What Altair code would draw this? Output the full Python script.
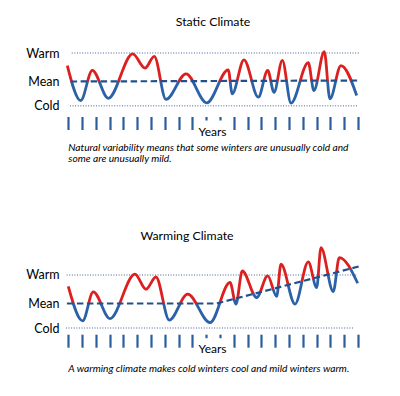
import altair as alt
import pandas as pd

# ---------------- data ----------------
level_names = ["Warm", "Mean", "Cold"]
static_levels = [10.0, 0.0, -8.5]
warming_levels = [10.0, 0.0, -8.6]

year_ticks = list(range(22))
short_ticks = [10, 11]

# turning points of the winter-temperature curve: x = year index, v = anomaly
static_x = [-0.07, 0.90, 1.74, 2.90, 4.67, 5.56, 6.23, 7.08, 8.53, 10.03, 11.59, 11.88,
            12.73, 13.77, 14.45, 14.91, 15.51, 16.14, 17.39, 17.80, 18.55, 18.96, 19.76, 20.90]
static_v = [5.6, -6.7, 3.9, -5.9, 9.7, 4.7, 8.8, -6.3, 2.7, -7.5, 4.1, -4.3,
            7.6, -5.5, 3.9, -3.8, 7.4, -7.6, 6.6, -3.2, 10.5, -6.1, 5.6, -4.9]
static_mean_x = [0.17, 21.0]
static_mean_v = [0.0, 0.35]
static_ref_start = [0.25, 0.12]
static_ref_end = [21.14, 21.02]

warming_x = [0.0, 1.04, 1.81, 3.02, 4.83, 5.63, 6.35, 7.32, 8.65, 10.27, 11.72, 12.15,
             12.61, 13.65, 14.45, 15.10, 15.41, 16.43, 17.39, 18.0, 18.31, 19.2, 19.64, 20.97]
warming_v = [6.0, -6.1, 4.1, -5.3, 10.3, 5.0, 9.3, -5.8, 3.3, -6.7, 7.4, -0.2,
             11.4, 2.1, 9.7, 2.5, 13.8, -0.2, 14.6, 5.6, 19.6, 4.2, 16.1, 7.1]
warming_mean_x = [-0.1, 10.75, 21.07]
warming_mean_v = [0.0, 0.0, 13.0]
warming_ref_start = [-0.12, -0.17]
warming_ref_end = [20.9, 20.72]

titles = ["Static Climate", "Warming Climate"]
captions = ["Natural variability means that some winters are unusually cold and\nsome are unusually mild.",
            "A warming climate makes cold winters cool and mild winters warm."]
x_title = "Years"

# ---------------- style / layout ----------------
RED = "#dc1f1f"
BLUE = "#2b61a6"
MEAN_C = "#22508e"
TICK_C = "#2c5e9e"
REF_C = "#8395bb"
FONT = "Lato"

PX = 13.8
X_LO = -0.6
TOP_W = 302
LEFT_W = 157
RIGHT_W = 145
X_SPLIT = X_LO + LEFT_W / PX
X_HI = X_SPLIT + RIGHT_W / PX
TOP_H = 75
TOP_YDOM = [-12.28, 14.04]
BOT_H = 90
BOT_YDOM = [-10.77, 20.8]


def stops(o):
    return [alt.GradientStop(color=RED, offset=0), alt.GradientStop(color=RED, offset=o),
            alt.GradientStop(color=BLUE, offset=o), alt.GradientStop(color=BLUE, offset=1)]


def grad_flat(vals, mean):
    vmax, vmin = max(vals), min(vals)
    o = (vmax - mean) / (vmax - vmin)
    return alt.Gradient(gradient="linear", x1=0, y1=0, x2=0, y2=1, stops=stops(o))


def grad_sloped(xs, vs, p1, p2):
    xmin, xmax, vmin, vmax = min(xs), max(xs), min(vs), max(vs)
    u = lambda x: (x - xmin) / (xmax - xmin)
    w = lambda v: (vmax - v) / (vmax - vmin)
    a = (u(p1[0]), w(p1[1]))
    b = (u(p2[0]), w(p2[1]))
    du, dw = b[0] - a[0], b[1] - a[1]
    L = (du ** 2 + dw ** 2) ** 0.5
    nx, ny = -dw / L, du / L
    return alt.Gradient(gradient="linear", x1=a[0] - nx, y1=a[1] - ny,
                        x2=a[0] + nx, y2=a[1] + ny, stops=stops(0.5))


def x_axis(values, title, title_x, title_y):
    kw = dict(values=values, labels=False, domain=False, grid=False, ticks=True,
              tickColor=TICK_C, tickWidth=2.2,
              tickSize={"condition": {"test": f"indexof({short_ticks}, datum.value) >= 0", "value": 3.5},
                        "value": 13},
              title=title)
    if title:
        kw.update(titleFont=FONT, titleFontSize=12, titleFontWeight="normal", titleColor="black",
                  titleBaseline="middle", titleAlign="center", titleY=title_y, titleX=title_x)
    return alt.Axis(**kw)


def y_axis(levels):
    expr = " : ".join(f"datum.value == {v!r} ? '{n}'" for v, n in zip(levels, level_names)) + " : ''"
    return alt.Axis(values=levels, labelExpr=expr, domain=False, ticks=False, tickSize=0, grid=False,
                    labelPadding=1, labelFont=FONT, labelFontSize=12.5, labelColor="black",
                    labelBaseline="middle", title=None, minExtent=52, maxExtent=52)


def layers(cx, cv, mx, mv, rs, re, levels, xdom, ydom, xax, yax, grad, clip, caption, cap_y, cap_base):
    xs = alt.Scale(domain=xdom, nice=False, zero=False)
    ys = alt.Scale(domain=ydom, nice=False, zero=False)
    X = alt.X("x:Q", scale=xs, axis=xax)
    Y = alt.Y("v:Q", scale=ys, axis=yax)
    ref_df = pd.DataFrame({"x": rs, "x2": re, "v": [levels[0], levels[2]]})
    ref = alt.Chart(ref_df).mark_rule(color=REF_C, strokeWidth=1.3, strokeDash=[1, 1.6], clip=clip).encode(
        x=X, x2="x2:Q", y=Y)
    curve = alt.Chart(pd.DataFrame({"x": cx, "v": cv})).mark_line(
        interpolate="monotone", stroke=grad, strokeWidth=2.8, clip=clip).encode(x=X, y=Y)
    mean = alt.Chart(pd.DataFrame({"x": mx, "v": mv})).mark_line(
        color=MEAN_C, strokeWidth=2.2, strokeDash=[6.5, 3.5], clip=clip).encode(x=X, y=Y)
    out = [ref, curve, mean]
    if caption:
        cap = alt.Chart(pd.DataFrame({"t": [caption]})).mark_text(
            align="left", baseline=cap_base, font=FONT, fontSize=10.2, fontStyle="italic",
            color="black", lineBreak="\n", lineHeight=11.6).encode(
            text="t:N", x=alt.value(8.3), y=alt.value(cap_y))
        out.append(cap)
    return alt.layer(*out)


def title(t, off):
    return alt.TitleParams(t, font=FONT, fontSize=12.3, fontWeight="normal", color="black",
                           anchor="middle", offset=off, dx=2)


top = layers(static_x, static_v, static_mean_x, static_mean_v, static_ref_start, static_ref_end,
             static_levels, [X_LO, X_LO + TOP_W / PX], TOP_YDOM,
             x_axis(year_ticks, x_title, TOP_W / 2 + 1, 15), y_axis(static_levels),
             grad_flat(static_v, 0.0), False, captions[0], 101.2, "top").properties(
    width=TOP_W, height=TOP_H, title=title(titles[0], 13.5))

left = layers(warming_x, warming_v, warming_mean_x, warming_mean_v, warming_ref_start, warming_ref_end,
              warming_levels, [X_LO, X_SPLIT], BOT_YDOM,
              x_axis([t for t in year_ticks if t < X_SPLIT], x_title, 152, 14), y_axis(warming_levels),
              grad_flat(warming_v, 0.0), True, captions[1], 124.7, "middle").properties(
    width=LEFT_W, height=BOT_H)

right = layers(warming_x, warming_v, warming_mean_x, warming_mean_v, warming_ref_start, warming_ref_end,
               warming_levels, [X_SPLIT, X_HI], BOT_YDOM,
               x_axis([t for t in year_ticks if t > X_SPLIT], None, 0, 14), None,
               grad_sloped(warming_x, warming_v, (warming_mean_x[1], warming_mean_v[1]),
                           (warming_mean_x[2], warming_mean_v[2])), True, None, 0, "middle").properties(
    width=RIGHT_W, height=BOT_H)

bottom = alt.hconcat(left, right, spacing=0, bounds="flush").properties(title=title(titles[1], 2.3))

chart = alt.vconcat(top, bottom, spacing=64.7).properties(
    padding={"left": 0, "top": 7.5, "right": 0, "bottom": 0}, background="white"
).configure_view(stroke=None).configure_axis(grid=False)

chart.save("out.html", embed_options={"renderer": "svg", "actions": False})
